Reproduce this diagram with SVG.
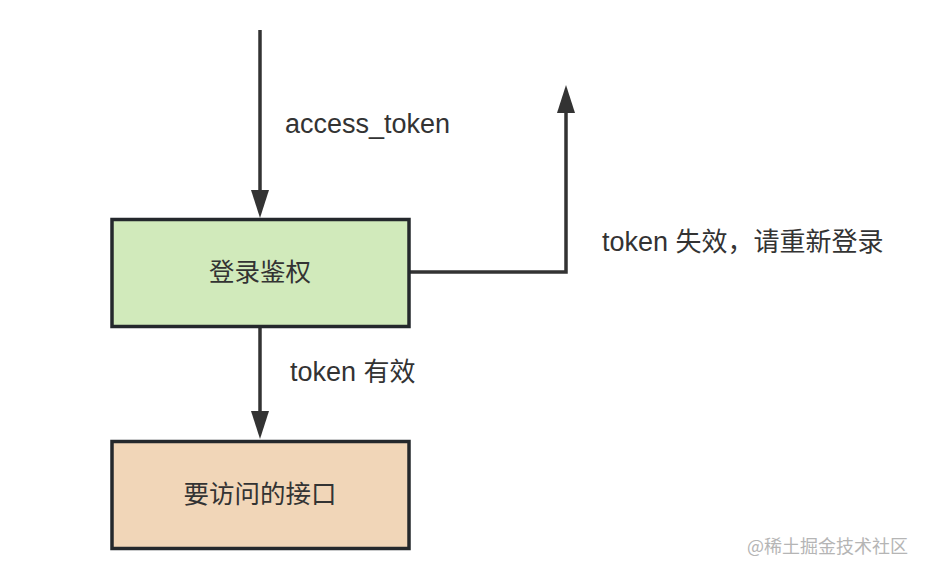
<svg xmlns="http://www.w3.org/2000/svg" width="926" height="574" viewBox="0 0 926 574">
<defs>
<style>
.box{stroke:#24282c;stroke-width:3.5}
.lbl{font-family:"Liberation Sans","Noto Sans CJK SC",sans-serif;font-size:27px;fill:#333}
.cjk{font-family:"Noto Sans CJK SC",sans-serif;font-size:26px}
.nt{font-family:"Noto Sans CJK SC","Liberation Sans",sans-serif;font-size:25.5px;fill:#333;text-anchor:middle}
.edge{stroke:#333;stroke-width:3.5;fill:none}
</style>
</defs>
<rect width="926" height="574" fill="#fff"/>
<g id="connectors">
<path class="edge" d="M260,30 V191"/>
<path d="M251,190 L269,190 L260,218 Z" fill="#333"/>
<path class="edge" d="M260,327 V412"/>
<path d="M251,411 L269,411 L260,439 Z" fill="#333"/>
<path class="edge" d="M410,272 H566 V112"/>
<path d="M557,113 L575,113 L566,85 Z" fill="#333"/>
</g>
<g id="labels">
<text class="lbl" x="285" y="133">access_token</text>
<text class="lbl" x="290" y="381">token <tspan class="cjk">有效</tspan></text>
<text class="lbl" x="602" y="251">token <tspan class="cjk">失效，请重新登录</tspan></text>
</g>
<g id="node-auth">
<rect class="box" x="112" y="219.5" width="297" height="107" fill="#d1eabb"/>
<text class="nt" x="260" y="281">登录鉴权</text>
</g>
<g id="node-api">
<rect class="box" x="112" y="441.5" width="297" height="107" fill="#f1d6b8"/>
<text class="nt" x="260" y="503">要访问的接口</text>
</g>
<text x="908" y="553" font-family="Noto Sans CJK SC, sans-serif" font-size="18" fill="#b5b5b5" text-anchor="end">@稀土掘金技术社区</text>
</svg>
